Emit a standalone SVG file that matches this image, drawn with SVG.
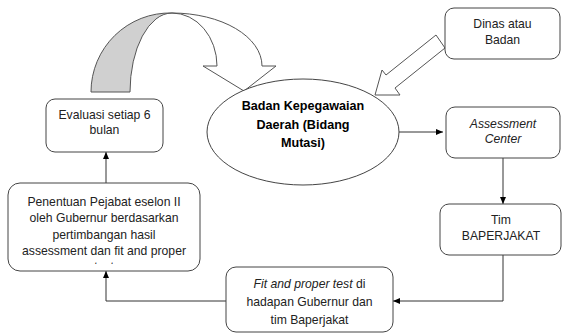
<svg xmlns="http://www.w3.org/2000/svg" width="562" height="336" viewBox="0 0 562 336">
<style>
.box{fill:#fff;stroke:#444;stroke-width:1}
.t{font-family:"Liberation Sans",Arial,sans-serif;font-size:12.2px;fill:#222;text-anchor:middle}
.b{font-family:"Liberation Sans",Arial,sans-serif;font-size:12.6px;font-weight:bold;fill:#000;text-anchor:middle}
.c{fill:none;stroke:#333;stroke-width:1}
.i{font-style:italic}
</style>
<defs>
<marker id="ah" markerWidth="8" markerHeight="8" refX="7" refY="4" orient="auto" markerUnits="userSpaceOnUse">
<path d="M0,1 L7,4 L0,7 Z" fill="#000"/>
</marker>
<clipPath id="clipP"><rect x="8" y="183" width="192" height="81"/></clipPath>
</defs>
<g id="curved-arrow">
<path d="M91,92 A79,79 0 0 1 172,13 A42,79 0 0 0 130,92 Z" fill="#d0d0d0" stroke="#555" stroke-width="1"/>
<path d="M172,13 A90,53 0 0 1 262,66 L276,66 L244,91 L203,66 L217,66 A45,53 0 0 0 172,13 Z" fill="#fff" stroke="#555" stroke-width="1"/>
</g>
<g id="hollow-arrow">
<polygon points="375,95 382,70 386,75 436,35 445,48 395,88 400,95" fill="#fff" stroke="#555" stroke-width="1"/>
</g>
<g id="connectors">
<line class="c" x1="399" y1="132" x2="443" y2="132" marker-end="url(#ah)"/>
<line class="c" x1="503" y1="158" x2="503" y2="204" marker-end="url(#ah)"/>
<polyline class="c" points="503,255 503,301 393,301" marker-end="url(#ah)"/>
<polyline class="c" points="226,301 106,301 106,271" marker-end="url(#ah)"/>
<line class="c" x1="106" y1="183" x2="106" y2="152" marker-end="url(#ah)"/>
</g>
<g id="node-bkd">
<ellipse cx="303" cy="132" rx="96" ry="53" fill="#fff" stroke="#444" stroke-width="1"/>
<text class="b" x="303" y="110">Badan Kepegawaian</text>
<text class="b" x="303" y="128.5">Daerah (Bidang</text>
<text class="b" x="303" y="147">Mutasi)</text>
</g>
<g id="node-evaluasi">
<rect class="box" x="46" y="99" width="117" height="53" rx="9"/>
<text class="t" x="104.5" y="118.5">Evaluasi setiap 6</text>
<text class="t" x="104.5" y="133.5">bulan</text>
</g>
<g id="node-dinas">
<rect class="box" x="445" y="8" width="115" height="51" rx="9"/>
<text class="t" x="502.5" y="27.5">Dinas atau</text>
<text class="t" x="502.5" y="43.5">Badan</text>
</g>
<g id="node-assessment">
<rect class="box" x="446" y="107" width="114" height="51" rx="9"/>
<text class="t i" x="503" y="127.5">Assessment</text>
<text class="t i" x="503" y="142.5">Center</text>
</g>
<g id="node-tim">
<rect class="box" x="440" y="204" width="121" height="51" rx="9"/>
<text class="t" x="501" y="224">Tim</text>
<text class="t" x="501" y="239.5">BAPERJAKAT</text>
</g>
<g id="node-fit">
<rect class="box" x="226" y="267" width="167" height="65" rx="10"/>
<text class="t" x="309.5" y="288"><tspan class="i">Fit and proper test</tspan> di</text>
<text class="t" x="309.5" y="306">hadapan Gubernur dan</text>
<text class="t" x="309.5" y="323.5">tim Baperjakat</text>
</g>
<g id="node-penentuan">
<rect class="box" x="8" y="183" width="192" height="88" rx="12"/>
<text class="t" x="104" y="205.5">Penentuan Pejabat eselon II</text>
<text class="t" x="104" y="221.5">oleh Gubernur berdasarkan</text>
<text class="t" x="104" y="238.5">pertimbangan hasil</text>
<text class="t" x="104" y="254.5">assessment dan fit and proper</text>
<text class="t" x="104" y="271" clip-path="url(#clipP)">test</text>
</g>
</svg>
